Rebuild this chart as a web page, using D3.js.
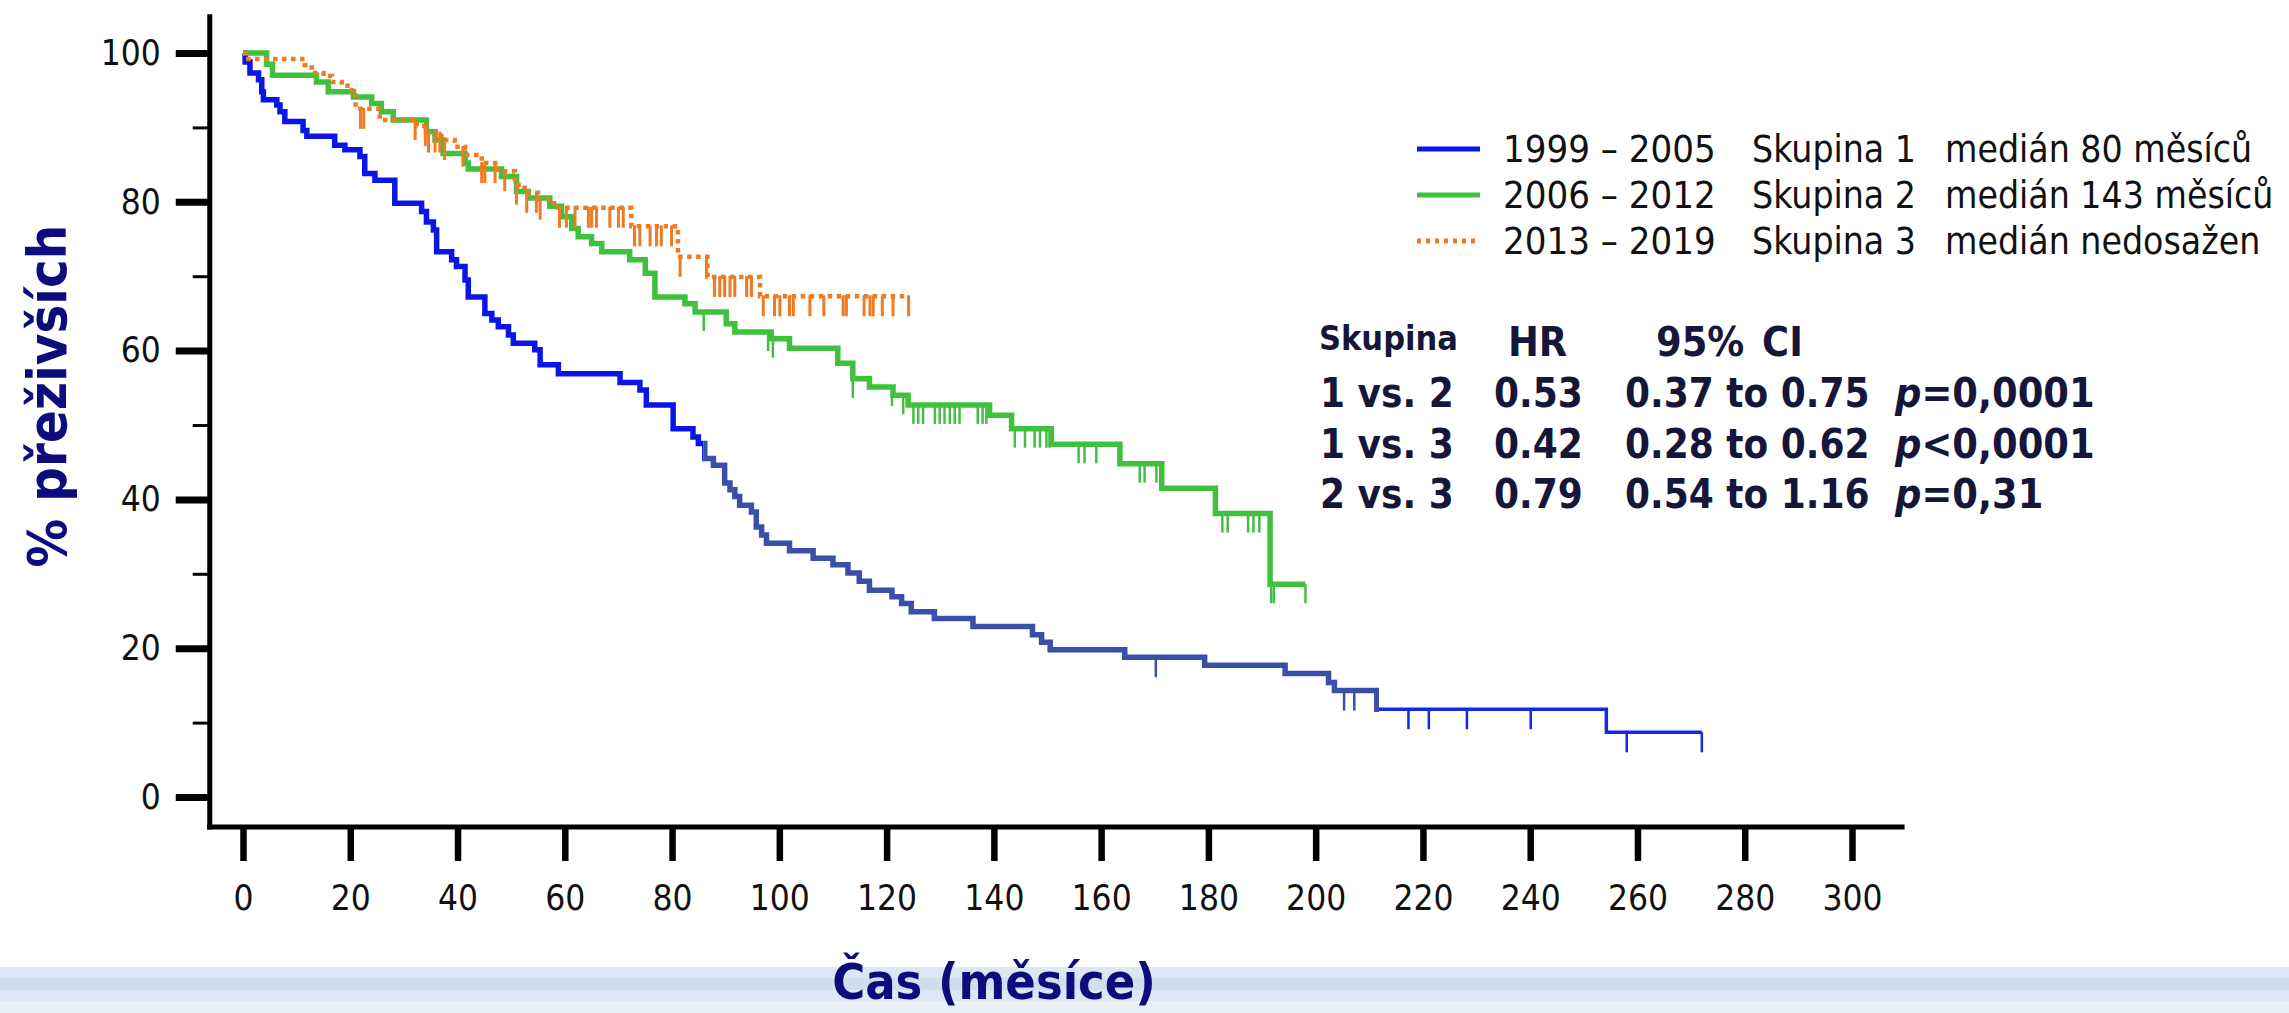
<!doctype html>
<html lang="cs">
<head>
  <meta charset="utf-8">
  <title>Přežití podle období</title>
  <script src="https://cdn.jsdelivr.net/npm/d3@7"></script>
  <style>
    body { margin: 0; background: #fff; }
    svg { display: block; }
    .tick text { font-family: "DejaVu Sans Condensed", "DejaVu Sans", sans-serif; font-size: 35px; fill: #111; }
  </style>
</head>
<body>
<div id="chart"></div>
<script>
  // ---- data ----
  // group 1: 1999 - 2005
  const g1Time = [0, 0.4, 1.3, 2.9, 3.5, 3.8, 6.3, 6.9, 7.8, 11.2, 11.9, 17.1, 19.0, 21.8, 22.7, 24.6, 28.3,
                  33.3, 34.2, 35.5, 36.1, 38.9, 39.8, 41.4, 42.0, 45.1, 46.4, 47.6, 49.5, 50.4, 54.4, 55.4,
                  58.8, 70.3, 74.0, 75.2, 80.2, 83.9, 84.9, 86.1, 87.7, 89.8, 90.8, 91.7, 92.6, 94.8, 95.7,
                  96.7, 97.6, 101.9, 106.3, 110.0, 112.8, 114.9, 116.8, 121.0, 122.8, 124.6, 128.9, 136.1,
                  147.2, 148.9, 150.5, 164.4, 179.3, 194.3, 202.4, 203.5, 211.4, 254.2, 272];
  const g1Surv = [100, 98.8, 97.3, 96.4, 94.8, 93.7, 93.0, 92.1, 90.8, 89.6, 88.8, 87.6, 87.0, 86.1, 83.8, 82.9, 79.8,
                  78.7, 77.3, 76.2, 73.3, 72.2, 71.3, 69.5, 67.2, 65.0, 64.1, 63.2, 62.1, 61.0, 60.1, 58.1,
                  56.9, 55.7, 54.7, 52.7, 49.5, 48.4, 47.5, 45.5, 44.6, 42.2, 41.3, 40.4, 39.2, 38.3, 36.3,
                  35.2, 34.1, 33.1, 32.1, 31.2, 30.1, 29.0, 27.8, 26.9, 26.0, 24.9, 24.0, 22.9,
                  21.8, 20.8, 19.8, 18.8, 17.7, 16.6, 15.4, 14.3, 11.8, 8.7, 8.7];
  const g1Censor = [170.2, 205.3, 207.2, 217.3, 221.1, 228.2, 240.1, 258.0, 272.0];

  // group 2: 2006 - 2012
  const g2Time = [0, 4.4, 5.5, 13.7, 15.9, 20.6, 24.0, 25.8, 28.0, 34.2, 35.8, 37.3, 41.4, 42.0, 48.2, 51.0,
                  53.2, 57.2, 59.4, 61.3, 62.5, 65.0, 66.9, 72.1, 75.0, 76.8, 82.4, 84.3, 90.1, 91.7, 98.5,
                  101.9, 110.9, 113.7, 116.8, 121.2, 124.0, 139.2, 143.3, 150.7, 163.5, 171.3, 181.3, 191.5, 198.1];
  const g2Surv = [100, 98.5, 97.0, 96.1, 94.8, 94.1, 93.2, 92.1, 91.0, 89.4, 88.3, 86.5, 85.2, 84.4, 83.4, 81.4,
                  80.5, 79.4, 78.0, 76.4, 75.3, 74.4, 73.3, 72.2, 70.4, 67.2, 66.3, 65.2, 63.6, 62.5, 61.6,
                  60.3, 58.3, 56.2, 55.1, 54.0, 52.7, 51.3, 49.5, 47.4, 44.8, 41.5, 38.1, 28.6, 28.6];
  const g2Censor = [85.9, 97.9, 98.8, 113.7, 121.0, 123.1, 125.0, 125.9, 126.8, 129.0, 129.9, 130.8, 131.8,
                    132.7, 133.6, 137.0, 137.9, 138.6, 143.9, 145.8, 147.6, 148.6, 149.8, 150.4, 155.8, 156.9,
                    159.1, 167.2, 168.1, 170.3, 182.6, 183.6, 187.4, 188.4, 189.5, 191.7, 192.2, 198.1];

  // group 3: 2013 - 2019
  const g3Time = [0, 0.5, 11.5, 12.8, 15.0, 16.6, 18.4, 20.3, 21.0, 25.5, 32.4, 34.2, 37.0, 39.5, 41.4, 44.5,
                  47.6, 50.7, 52.5, 55.0, 58.0, 72.4, 81.1, 86.6, 96.4, 124.1];
  const g3Surv = [100, 99.2, 98.4, 97.3, 96.9, 96.1, 95.6, 95.0, 92.5, 91.0, 90.2, 89.3, 88.3, 87.4, 86.3, 85.2,
                  84.1, 82.3, 81.2, 80.3, 79.2, 76.7, 72.6, 69.9, 67.3, 67.3];
  const g3Censor = [21.9, 22.5, 32.1, 34.0, 34.6, 35.8, 36.7, 37.6, 41.0, 44.5, 45.1, 47.0, 48.8, 51.0, 52.9,
                    54.7, 55.4, 59.0, 60.3, 61.9, 64.4, 65.0, 65.9, 68.4, 70.0, 70.9, 73.0, 74.0, 75.9, 77.1,
                    78.0, 79.9, 81.5, 86.4, 87.9, 88.9, 89.8, 90.8, 91.7, 93.9, 94.8, 97.0, 99.1, 100.1, 101.9,
                    102.6, 105.7, 108.3, 111.9, 112.5, 115.8, 116.9, 117.5, 119.2, 121.2, 124.1];

  const xTicks = d3.range(0, 301, 20);
  const yTicks = [0, 20, 40, 60, 80, 100];
  const yMinor = [10, 30, 50, 70, 90];

  const legendYears = ['1999 – 2005', '2006 – 2012', '2013 – 2019'];
  const legendGroups = ['Skupina 1', 'Skupina 2', 'Skupina 3'];
  const legendMedians = ['medián 80 měsíců', 'medián 143 měsíců', 'medián nedosažen'];

  const cmpLabels = ['1 vs. 2', '1 vs. 3', '2 vs. 3'];
  const hrValues = ['0.53', '0.42', '0.79'];
  const ciValues = ['0.37 to 0.75', '0.28 to 0.62', '0.54 to 1.16'];
  const pSigns = ['=', '<', '='];
  const pValues = ['0,0001', '0,0001', '0,31'];

  // ---- layout ----
  const width = 2289, height = 1013;
  const cond = '"DejaVu Sans Condensed", "DejaVu Sans", sans-serif';
  const navy = '#0c0c7c';

  const x = d3.scaleLinear().domain([0, 300]).range([243, 1852]);
  const y = d3.scaleLinear().domain([0, 100]).range([797, 53]);

  const svg = d3.select('#chart').append('svg')
    .attr('width', width)
    .attr('height', height)
    .style('background', '#fff');

  // slide stripes at the bottom
  const stripes = [[967, 11, '#dce7f3'], [978, 12, '#cfdff0'], [990, 11, '#dde8f4'], [1001, 12, '#e9f0f8']];
  svg.selectAll('rect.stripe').data(stripes).enter().append('rect')
    .attr('class', 'stripe')
    .attr('x', 0).attr('width', width)
    .attr('y', d => d[0]).attr('height', d => d[1])
    .attr('fill', d => d[2]);

  // axes
  const yAxisX = x(-6.2);
  const xAxisY = y(-4.03);

  const yg = svg.append('g').attr('transform', `translate(${yAxisX},0)`)
    .call(d3.axisLeft(y).tickValues(yTicks).tickSize(34).tickPadding(15).tickSizeOuter(0));
  yg.select('.domain').remove();
  yg.selectAll('.tick line').attr('stroke', '#000').attr('stroke-width', 7);

  const ymg = svg.append('g').attr('transform', `translate(${yAxisX},0)`)
    .call(d3.axisLeft(y).tickValues(yMinor).tickSize(17).tickFormat(''));
  ymg.select('.domain').remove();
  ymg.selectAll('.tick line').attr('stroke', '#000').attr('stroke-width', 3);

  const xg = svg.append('g').attr('transform', `translate(0,${xAxisY})`)
    .call(d3.axisBottom(x).tickValues(xTicks).tickSize(34).tickPadding(24).tickSizeOuter(0));
  xg.select('.domain').remove();
  xg.selectAll('.tick line').attr('stroke', '#000').attr('stroke-width', 6.5);

  svg.append('line')
    .attr('x1', yAxisX).attr('x2', yAxisX)
    .attr('y1', y(105.2)).attr('y2', xAxisY + 2.5)
    .attr('stroke', '#000').attr('stroke-width', 5);
  svg.append('line')
    .attr('x1', yAxisX - 2.5).attr('x2', x(309.8))
    .attr('y1', xAxisY).attr('y2', xAxisY)
    .attr('stroke', '#000').attr('stroke-width', 5);

  // axis titles
  svg.append('text')
    .attr('x', 994).attr('y', 999)
    .attr('text-anchor', 'middle')
    .style('font-family', cond).style('font-weight', 'bold').style('font-size', '50px')
    .attr('fill', navy)
    .text('Čas (měsíce)');
  svg.append('text')
    .attr('transform', 'translate(66,396) rotate(-90)')
    .attr('text-anchor', 'middle')
    .style('font-family', cond).style('font-weight', 'bold').style('font-size', '54px')
    .attr('fill', navy)
    .text('% přeživších');

  // survival curves
  const line = d3.line()
    .x(d => x(d.t))
    .y(d => y(d.s))
    .curve(d3.curveStepAfter);

  const toPts = (times, surv) => times.map((t, i) => ({t: t, s: surv[i]}));
  const survAt = (times, surv, t) => surv[Math.max(0, d3.bisectRight(times, t) - 1)];

  const defs = svg.append('defs');
  function clipBetween(id, t0, t1) {
    defs.append('clipPath').attr('id', id).append('rect')
      .attr('x', x(t0)).attr('width', x(t1) - x(t0))
      .attr('y', 0).attr('height', height);
    return `url(#${id})`;
  }

  const plot = svg.append('g');

  // group 1 drawn in three pieces, as in the original image
  const blueParts = [
    {id: 'b1', t0: -5, t1: 85.8, color: '#0b16e6', w: 5.5},
    {id: 'b2', t0: 85.8, t1: 211.8, color: '#3a4fa8', w: 5.5},
    {id: 'b3', t0: 211.8, t1: 290, color: '#1428e8', w: 3.5}
  ];
  const g1Pts = toPts(g1Time, g1Surv);
  blueParts.forEach(p => {
    plot.append('path')
      .datum(g1Pts)
      .attr('clip-path', clipBetween(p.id, p.t0, p.t1))
      .attr('fill', 'none')
      .attr('stroke', p.color)
      .attr('stroke-width', p.w)
      .attr('d', line);
  });
  plot.selectAll('line.c1').data(g1Censor).enter().append('line')
    .attr('class', 'c1')
    .attr('x1', d => x(d)).attr('x2', d => x(d))
    .attr('y1', d => y(survAt(g1Time, g1Surv, d)))
    .attr('y2', d => y(survAt(g1Time, g1Surv, d)) + 20)
    .attr('stroke', d => (d < 211.8 ? '#3a4fa8' : '#1428e8'))
    .attr('stroke-width', 2.5);

  // group 2
  plot.append('path')
    .datum(toPts(g2Time, g2Surv))
    .attr('fill', 'none')
    .attr('stroke', '#3ec23e')
    .attr('stroke-width', 5.5)
    .attr('d', line);
  plot.selectAll('line.c2').data(g2Censor).enter().append('line')
    .attr('class', 'c2')
    .attr('x1', d => x(d)).attr('x2', d => x(d))
    .attr('y1', d => y(survAt(g2Time, g2Surv, d)))
    .attr('y2', d => y(survAt(g2Time, g2Surv, d)) + 19)
    .attr('stroke', '#45bd45')
    .attr('stroke-width', 2.5);

  // group 3 (dotted)
  plot.append('path')
    .datum(toPts(g3Time, g3Surv))
    .attr('fill', 'none')
    .attr('stroke', '#ef7a22')
    .attr('stroke-width', 4.5)
    .attr('stroke-dasharray', '4.5,4.5')
    .attr('d', line);
  plot.selectAll('line.c3').data(g3Censor).enter().append('line')
    .attr('class', 'c3')
    .attr('x1', d => x(d)).attr('x2', d => x(d))
    .attr('y1', d => y(survAt(g3Time, g3Surv, d)) - 1)
    .attr('y2', d => y(survAt(g3Time, g3Surv, d)) + 20)
    .attr('stroke', '#ef7a22')
    .attr('stroke-width', 3);

  // legend
  const legendColors = ['#0b16e6', '#3ec23e', '#ef7a22'];
  const legend = svg.append('g')
    .style('font-family', cond).style('font-size', '37px').attr('fill', '#111');
  legendYears.forEach((yr, i) => {
    const cy = 149 + i * 46;
    legend.append('line')
      .attr('x1', 1417).attr('x2', 1480)
      .attr('y1', cy).attr('y2', cy)
      .attr('stroke', legendColors[i])
      .attr('stroke-width', 5)
      .attr('stroke-dasharray', i === 2 ? '4,5' : null);
    legend.append('text').attr('x', 1503).attr('y', cy + 13).style('font-size', '38px').text(yr);
    legend.append('text').attr('x', 1752).attr('y', cy + 13).text(legendGroups[i]);
    legend.append('text').attr('x', 1945).attr('y', cy + 13).text(legendMedians[i]);
  });

  // hazard ratio table
  const tbl = svg.append('g')
    .style('font-family', cond).style('font-weight', 'bold').attr('fill', '#16163a');
  tbl.append('text').attr('x', 1319).attr('y', 350).style('font-size', '34px').text('Skupina');
  tbl.append('text').attr('x', 1508).attr('y', 356).style('font-size', '41px').text('HR');
  tbl.append('text').attr('x', 1656).attr('y', 356).style('font-size', '41px')
    .style('word-spacing', '5px').text('95% CI');
  cmpLabels.forEach((c, i) => {
    const by = 407 + i * 50.5;
    tbl.append('text').attr('x', 1320).attr('y', by).style('font-size', '40px').text(c);
    tbl.append('text').attr('x', 1494).attr('y', by).style('font-size', '40px').text(hrValues[i]);
    tbl.append('text').attr('x', 1625).attr('y', by).style('font-size', '40px').text(ciValues[i]);
    const pt = tbl.append('text').attr('x', 1895).attr('y', by).style('font-size', '41px');
    pt.append('tspan').style('font-style', 'italic').text('p');
    pt.append('tspan').text(pSigns[i] + pValues[i]);
  });
</script>
</body>
</html>
